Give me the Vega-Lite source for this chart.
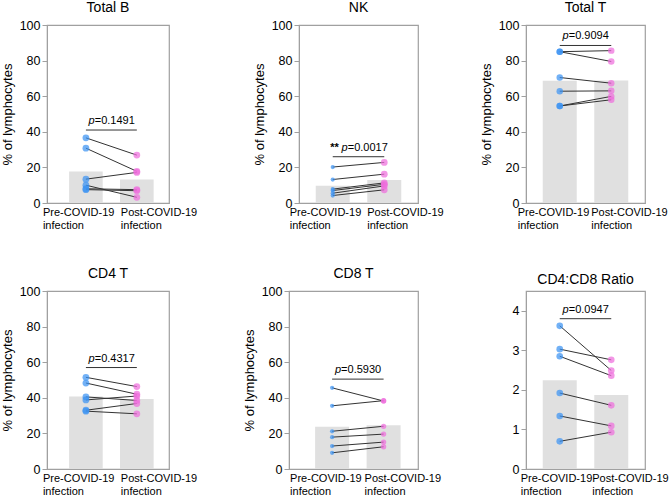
{
  "$schema": "https://vega.github.io/schema/vega-lite/v6.json",
  "background": "white",
  "padding": {"left": 0, "top": 0, "right": 0, "bottom": 0},
  "config": {
    "font": "Liberation Sans",
    "view": {"stroke": "#a0a0a0", "strokeWidth": 1.2},
    "axis": {"labelFont": "Liberation Sans", "titleFont": "Liberation Sans", "labelColor": "#000", "titleColor": "#000", "domainColor": "#a0a0a0", "tickColor": "#a0a0a0", "grid": false, "titleFontWeight": "normal"},
    "axisY": {"labelFontSize": 12.5, "tickSize": 5, "labelPadding": 2, "titleFontSize": 13, "titlePadding": 5, "labelOverlap": false},
    "axisX": {"labelFontSize": 11, "ticks": false, "labelAngle": 0, "labelPadding": 3, "labelLineHeight": 13.5, "labelAlign": "left", "labelOverlap": false},
    "title": {"fontSize": 14, "fontWeight": "normal", "font": "Liberation Sans", "color": "#000", "offset": 4}
  },
  "datasets": {
    "cells": [
      {"panel": "Total B", "subject": 1, "phase": "Pre-COVID-19 infection", "value": 36.6},
      {"panel": "Total B", "subject": 1, "phase": "Post-COVID-19 infection", "value": 26.9},
      {"panel": "Total B", "subject": 2, "phase": "Pre-COVID-19 infection", "value": 30.8},
      {"panel": "Total B", "subject": 2, "phase": "Post-COVID-19 infection", "value": 17.8},
      {"panel": "Total B", "subject": 3, "phase": "Pre-COVID-19 infection", "value": 13.4},
      {"panel": "Total B", "subject": 3, "phase": "Post-COVID-19 infection", "value": 17.2},
      {"panel": "Total B", "subject": 4, "phase": "Pre-COVID-19 infection", "value": 10.0},
      {"panel": "Total B", "subject": 4, "phase": "Post-COVID-19 infection", "value": 3.2},
      {"panel": "Total B", "subject": 5, "phase": "Pre-COVID-19 infection", "value": 8.0},
      {"panel": "Total B", "subject": 5, "phase": "Post-COVID-19 infection", "value": 7.5},
      {"panel": "Total B", "subject": 6, "phase": "Pre-COVID-19 infection", "value": 7.5},
      {"panel": "Total B", "subject": 6, "phase": "Post-COVID-19 infection", "value": 6.9},
      {"panel": "NK", "subject": 1, "phase": "Pre-COVID-19 infection", "value": 20.2},
      {"panel": "NK", "subject": 1, "phase": "Post-COVID-19 infection", "value": 22.8},
      {"panel": "NK", "subject": 2, "phase": "Pre-COVID-19 infection", "value": 13.2},
      {"panel": "NK", "subject": 2, "phase": "Post-COVID-19 infection", "value": 16.2},
      {"panel": "NK", "subject": 3, "phase": "Pre-COVID-19 infection", "value": 7.8},
      {"panel": "NK", "subject": 3, "phase": "Post-COVID-19 infection", "value": 11.3},
      {"panel": "NK", "subject": 4, "phase": "Pre-COVID-19 infection", "value": 7.0},
      {"panel": "NK", "subject": 4, "phase": "Post-COVID-19 infection", "value": 10.5},
      {"panel": "NK", "subject": 5, "phase": "Pre-COVID-19 infection", "value": 5.5},
      {"panel": "NK", "subject": 5, "phase": "Post-COVID-19 infection", "value": 9.6},
      {"panel": "NK", "subject": 6, "phase": "Pre-COVID-19 infection", "value": 4.2},
      {"panel": "NK", "subject": 6, "phase": "Post-COVID-19 infection", "value": 7.4},
      {"panel": "Total T", "subject": 1, "phase": "Pre-COVID-19 infection", "value": 85.0},
      {"panel": "Total T", "subject": 1, "phase": "Post-COVID-19 infection", "value": 85.6},
      {"panel": "Total T", "subject": 2, "phase": "Pre-COVID-19 infection", "value": 85.0},
      {"panel": "Total T", "subject": 2, "phase": "Post-COVID-19 infection", "value": 79.5},
      {"panel": "Total T", "subject": 3, "phase": "Pre-COVID-19 infection", "value": 70.5},
      {"panel": "Total T", "subject": 3, "phase": "Post-COVID-19 infection", "value": 67.3},
      {"panel": "Total T", "subject": 4, "phase": "Pre-COVID-19 infection", "value": 62.8},
      {"panel": "Total T", "subject": 4, "phase": "Post-COVID-19 infection", "value": 63.0},
      {"panel": "Total T", "subject": 5, "phase": "Pre-COVID-19 infection", "value": 54.5},
      {"panel": "Total T", "subject": 5, "phase": "Post-COVID-19 infection", "value": 59.9},
      {"panel": "Total T", "subject": 6, "phase": "Pre-COVID-19 infection", "value": 54.5},
      {"panel": "Total T", "subject": 6, "phase": "Post-COVID-19 infection", "value": 58.0},
      {"panel": "CD4 T", "subject": 1, "phase": "Pre-COVID-19 infection", "value": 51.5},
      {"panel": "CD4 T", "subject": 1, "phase": "Post-COVID-19 infection", "value": 46.3},
      {"panel": "CD4 T", "subject": 2, "phase": "Pre-COVID-19 infection", "value": 48.3},
      {"panel": "CD4 T", "subject": 2, "phase": "Post-COVID-19 infection", "value": 42.0},
      {"panel": "CD4 T", "subject": 3, "phase": "Pre-COVID-19 infection", "value": 40.5},
      {"panel": "CD4 T", "subject": 3, "phase": "Post-COVID-19 infection", "value": 38.5},
      {"panel": "CD4 T", "subject": 4, "phase": "Pre-COVID-19 infection", "value": 38.8},
      {"panel": "CD4 T", "subject": 4, "phase": "Post-COVID-19 infection", "value": 41.0},
      {"panel": "CD4 T", "subject": 5, "phase": "Pre-COVID-19 infection", "value": 33.0},
      {"panel": "CD4 T", "subject": 5, "phase": "Post-COVID-19 infection", "value": 36.8},
      {"panel": "CD4 T", "subject": 6, "phase": "Pre-COVID-19 infection", "value": 32.5},
      {"panel": "CD4 T", "subject": 6, "phase": "Post-COVID-19 infection", "value": 31.0},
      {"panel": "CD8 T", "subject": 1, "phase": "Pre-COVID-19 infection", "value": 45.6},
      {"panel": "CD8 T", "subject": 1, "phase": "Post-COVID-19 infection", "value": 38.2},
      {"panel": "CD8 T", "subject": 2, "phase": "Pre-COVID-19 infection", "value": 35.5},
      {"panel": "CD8 T", "subject": 2, "phase": "Post-COVID-19 infection", "value": 38.4},
      {"panel": "CD8 T", "subject": 3, "phase": "Pre-COVID-19 infection", "value": 21.2},
      {"panel": "CD8 T", "subject": 3, "phase": "Post-COVID-19 infection", "value": 24.0},
      {"panel": "CD8 T", "subject": 4, "phase": "Pre-COVID-19 infection", "value": 17.9},
      {"panel": "CD8 T", "subject": 4, "phase": "Post-COVID-19 infection", "value": 19.6},
      {"panel": "CD8 T", "subject": 5, "phase": "Pre-COVID-19 infection", "value": 12.9},
      {"panel": "CD8 T", "subject": 5, "phase": "Post-COVID-19 infection", "value": 15.1},
      {"panel": "CD8 T", "subject": 6, "phase": "Pre-COVID-19 infection", "value": 9.1},
      {"panel": "CD8 T", "subject": 6, "phase": "Post-COVID-19 infection", "value": 12.5},
      {"panel": "CD4:CD8 Ratio", "subject": 1, "phase": "Pre-COVID-19 infection", "value": 3.62},
      {"panel": "CD4:CD8 Ratio", "subject": 1, "phase": "Post-COVID-19 infection", "value": 2.49},
      {"panel": "CD4:CD8 Ratio", "subject": 2, "phase": "Pre-COVID-19 infection", "value": 3.03},
      {"panel": "CD4:CD8 Ratio", "subject": 2, "phase": "Post-COVID-19 infection", "value": 2.76},
      {"panel": "CD4:CD8 Ratio", "subject": 3, "phase": "Pre-COVID-19 infection", "value": 2.85},
      {"panel": "CD4:CD8 Ratio", "subject": 3, "phase": "Post-COVID-19 infection", "value": 2.36},
      {"panel": "CD4:CD8 Ratio", "subject": 4, "phase": "Pre-COVID-19 infection", "value": 1.92},
      {"panel": "CD4:CD8 Ratio", "subject": 4, "phase": "Post-COVID-19 infection", "value": 1.61},
      {"panel": "CD4:CD8 Ratio", "subject": 5, "phase": "Pre-COVID-19 infection", "value": 1.34},
      {"panel": "CD4:CD8 Ratio", "subject": 5, "phase": "Post-COVID-19 infection", "value": 1.09},
      {"panel": "CD4:CD8 Ratio", "subject": 6, "phase": "Pre-COVID-19 infection", "value": 0.70},
      {"panel": "CD4:CD8 Ratio", "subject": 6, "phase": "Post-COVID-19 infection", "value": 0.93}
    ],
    "pvals": [
      {"panel": "Total B", "y": 41, "label": "=0.1491", "stars": ""},
      {"panel": "NK", "y": 26, "label": "=0.0017", "stars": "**"},
      {"panel": "Total T", "y": 88.5, "label": "=0.9094", "stars": ""},
      {"panel": "CD4 T", "y": 57, "label": "=0.4317", "stars": ""},
      {"panel": "CD8 T", "y": 50.5, "label": "=0.5930", "stars": ""},
      {"panel": "CD4:CD8 Ratio", "y": 3.8, "label": "=0.0947", "stars": ""}
    ]
  },
  "spacing": 34,
  "vconcat": [
    {
      "bounds": "flush",
      "spacing": 130,
      "hconcat": [
        {
          "width": 122, "height": 178, "title": "Total B",
          "layer": [
            {"data": {"name": "cells"}, "transform": [{"filter": "datum.panel === 'Total B'"}], "mark": {"type": "bar", "color": "#e0e0e0"},
             "encoding": {"x": {"field": "phase", "type": "nominal", "title": null, "scale": {"domain": ["Pre-COVID-19 infection", "Post-COVID-19 infection"], "paddingInner": 0.34, "paddingOuter": 0.368, "align": 0.59}, "axis": {"labelExpr": "split(datum.label, ' ')", "labelOffset": {"condition": {"test": "datum.value === 'Pre-COVID-19 infection'", "value": -43}, "value": -16}}},
                          "y": {"aggregate": "mean", "field": "value", "type": "quantitative", "title": "% of lymphocytes", "scale": {"domain": [0, 100]}, "axis": {"values": [0, 20, 40, 60, 80, 100]}}}},
            {"data": {"name": "cells"}, "transform": [{"filter": "datum.panel === 'Total B'"}], "mark": {"type": "line", "color": "#333333", "strokeWidth": 1},
             "encoding": {"x": {"field": "phase", "type": "nominal", "title": null}, "y": {"field": "value", "type": "quantitative", "title": "% of lymphocytes", "axis": {"values": [0, 20, 40, 60, 80, 100]}}, "detail": {"field": "subject"}}},
            {"data": {"name": "cells"}, "transform": [{"filter": "datum.panel === 'Total B'"}], "mark": {"type": "circle", "opacity": 0.72},
             "encoding": {"x": {"field": "phase", "type": "nominal", "title": null}, "y": {"field": "value", "type": "quantitative", "title": "% of lymphocytes", "axis": {"values": [0, 20, 40, 60, 80, 100]}},
                          "color": {"condition": {"test": "datum.phase === 'Pre-COVID-19 infection'", "value": "#3b93f2"}, "value": "#ef6edd"},
                          "size": {"value": 46}}},
            {"data": {"name": "pvals"}, "transform": [{"filter": "datum.panel === 'Total B'"}], "mark": {"type": "rule", "color": "#333333", "strokeWidth": 1},
             "encoding": {"x": {"datum": "Pre-COVID-19 infection"}, "x2": {"datum": "Post-COVID-19 infection"}, "y": {"field": "y", "type": "quantitative", "title": "% of lymphocytes", "axis": {"values": [0, 20, 40, 60, 80, 100]}}}},
            {"data": {"name": "pvals"}, "transform": [{"filter": "datum.panel === 'Total B'"}], "mark": {"type": "text", "fontStyle": "italic", "fontSize": 11, "align": "right", "baseline": "alphabetic", "dx": -8, "dy": -6},
             "encoding": {"x": {"datum": "Pre-COVID-19 infection", "bandPosition": 1}, "y": {"field": "y", "type": "quantitative", "title": "% of lymphocytes", "axis": {"values": [0, 20, 40, 60, 80, 100]}}, "text": {"value": "p"}}},
            {"data": {"name": "pvals"}, "transform": [{"filter": "datum.panel === 'Total B'"}], "mark": {"type": "text", "fontSize": 11, "align": "left", "baseline": "alphabetic", "dx": -8, "dy": -6},
             "encoding": {"x": {"datum": "Pre-COVID-19 infection", "bandPosition": 1}, "y": {"field": "y", "type": "quantitative", "title": "% of lymphocytes", "axis": {"values": [0, 20, 40, 60, 80, 100]}}, "text": {"field": "label"}}}
          ]
        },
        {
          "bounds": "flush",
          "spacing": 108,
          "hconcat": [
            {
              "width": 119, "height": 178, "title": "NK",
              "layer": [
                {"data": {"name": "cells"}, "transform": [{"filter": "datum.panel === 'NK'"}], "mark": {"type": "bar", "color": "#e0e0e0"},
                 "encoding": {"x": {"field": "phase", "type": "nominal", "title": null, "scale": {"domain": ["Pre-COVID-19 infection", "Post-COVID-19 infection"], "paddingInner": 0.34, "paddingOuter": 0.325}, "axis": {"labelExpr": "split(datum.label, ' ')", "labelOffset": {"condition": {"test": "datum.value === 'Pre-COVID-19 infection'", "value": -43}, "value": -17}}},
                              "y": {"aggregate": "mean", "field": "value", "type": "quantitative", "title": "% of lymphocytes", "scale": {"domain": [0, 100]}, "axis": {"values": [0, 20, 40, 60, 80, 100]}}}},
                {"data": {"name": "cells"}, "transform": [{"filter": "datum.panel === 'NK'"}], "mark": {"type": "line", "color": "#333333", "strokeWidth": 1},
                 "encoding": {"x": {"field": "phase", "type": "nominal", "title": null}, "y": {"field": "value", "type": "quantitative", "title": "% of lymphocytes", "axis": {"values": [0, 20, 40, 60, 80, 100]}}, "detail": {"field": "subject"}}},
                {"data": {"name": "cells"}, "transform": [{"filter": "datum.panel === 'NK'"}], "mark": {"type": "circle", "opacity": 0.72},
                 "encoding": {"x": {"field": "phase", "type": "nominal", "title": null}, "y": {"field": "value", "type": "quantitative", "title": "% of lymphocytes", "axis": {"values": [0, 20, 40, 60, 80, 100]}},
                              "color": {"condition": {"test": "datum.phase === 'Pre-COVID-19 infection'", "value": "#3b93f2"}, "value": "#ef6edd"},
                              "size": {"condition": {"test": "datum.phase === 'Pre-COVID-19 infection'", "value": 18}, "value": 46}}},
                {"data": {"name": "pvals"}, "transform": [{"filter": "datum.panel === 'NK'"}], "mark": {"type": "rule", "color": "#333333", "strokeWidth": 1},
                 "encoding": {"x": {"datum": "Pre-COVID-19 infection"}, "x2": {"datum": "Post-COVID-19 infection"}, "y": {"field": "y", "type": "quantitative", "title": "% of lymphocytes", "axis": {"values": [0, 20, 40, 60, 80, 100]}}}},
                {"data": {"name": "pvals"}, "transform": [{"filter": "datum.panel === 'NK'"}], "mark": {"type": "text", "fontWeight": "bold", "fontSize": 11, "align": "right", "baseline": "alphabetic", "dx": -11, "dy": -6},
                 "encoding": {"x": {"datum": "Pre-COVID-19 infection", "bandPosition": 1}, "y": {"field": "y", "type": "quantitative", "title": "% of lymphocytes", "axis": {"values": [0, 20, 40, 60, 80, 100]}}, "text": {"field": "stars"}}},
                {"data": {"name": "pvals"}, "transform": [{"filter": "datum.panel === 'NK'"}], "mark": {"type": "text", "fontStyle": "italic", "fontSize": 11, "align": "right", "baseline": "alphabetic", "dx": -2, "dy": -6},
                 "encoding": {"x": {"datum": "Pre-COVID-19 infection", "bandPosition": 1}, "y": {"field": "y", "type": "quantitative", "title": "% of lymphocytes", "axis": {"values": [0, 20, 40, 60, 80, 100]}}, "text": {"value": "p"}}},
                {"data": {"name": "pvals"}, "transform": [{"filter": "datum.panel === 'NK'"}], "mark": {"type": "text", "fontSize": 11, "align": "left", "baseline": "alphabetic", "dx": -2, "dy": -6},
                 "encoding": {"x": {"datum": "Pre-COVID-19 infection", "bandPosition": 1}, "y": {"field": "y", "type": "quantitative", "title": "% of lymphocytes", "axis": {"values": [0, 20, 40, 60, 80, 100]}}, "text": {"field": "label"}}}
              ]
            },
            {
              "width": 119, "height": 178, "title": "Total T",
              "layer": [
                {"data": {"name": "cells"}, "transform": [{"filter": "datum.panel === 'Total T'"}], "mark": {"type": "bar", "color": "#e0e0e0"},
                 "encoding": {"x": {"field": "phase", "type": "nominal", "title": null, "scale": {"domain": ["Pre-COVID-19 infection", "Post-COVID-19 infection"], "paddingInner": 0.34, "paddingOuter": 0.325}, "axis": {"labelExpr": "split(datum.label, ' ')", "labelOffset": {"condition": {"test": "datum.value === 'Pre-COVID-19 infection'", "value": -42}, "value": -20}}},
                              "y": {"aggregate": "mean", "field": "value", "type": "quantitative", "title": "% of lymphocytes", "scale": {"domain": [0, 100]}, "axis": {"values": [0, 20, 40, 60, 80, 100]}}}},
                {"data": {"name": "cells"}, "transform": [{"filter": "datum.panel === 'Total T'"}], "mark": {"type": "line", "color": "#333333", "strokeWidth": 1},
                 "encoding": {"x": {"field": "phase", "type": "nominal", "title": null}, "y": {"field": "value", "type": "quantitative", "title": "% of lymphocytes", "axis": {"values": [0, 20, 40, 60, 80, 100]}}, "detail": {"field": "subject"}}},
                {"data": {"name": "cells"}, "transform": [{"filter": "datum.panel === 'Total T'"}], "mark": {"type": "circle", "opacity": 0.72},
                 "encoding": {"x": {"field": "phase", "type": "nominal", "title": null}, "y": {"field": "value", "type": "quantitative", "title": "% of lymphocytes", "axis": {"values": [0, 20, 40, 60, 80, 100]}},
                              "color": {"condition": {"test": "datum.phase === 'Pre-COVID-19 infection'", "value": "#3b93f2"}, "value": "#ef6edd"},
                              "size": {"value": 42}}},
                {"data": {"name": "pvals"}, "transform": [{"filter": "datum.panel === 'Total T'"}], "mark": {"type": "rule", "color": "#333333", "strokeWidth": 1},
                 "encoding": {"x": {"datum": "Pre-COVID-19 infection"}, "x2": {"datum": "Post-COVID-19 infection"}, "y": {"field": "y", "type": "quantitative", "title": "% of lymphocytes", "axis": {"values": [0, 20, 40, 60, 80, 100]}}}},
                {"data": {"name": "pvals"}, "transform": [{"filter": "datum.panel === 'Total T'"}], "mark": {"type": "text", "fontStyle": "italic", "fontSize": 11, "align": "right", "baseline": "alphabetic", "dx": -8, "dy": -6},
                 "encoding": {"x": {"datum": "Pre-COVID-19 infection", "bandPosition": 1}, "y": {"field": "y", "type": "quantitative", "title": "% of lymphocytes", "axis": {"values": [0, 20, 40, 60, 80, 100]}}, "text": {"value": "p"}}},
                {"data": {"name": "pvals"}, "transform": [{"filter": "datum.panel === 'Total T'"}], "mark": {"type": "text", "fontSize": 11, "align": "left", "baseline": "alphabetic", "dx": -8, "dy": -6},
                 "encoding": {"x": {"datum": "Pre-COVID-19 infection", "bandPosition": 1}, "y": {"field": "y", "type": "quantitative", "title": "% of lymphocytes", "axis": {"values": [0, 20, 40, 60, 80, 100]}}, "text": {"field": "label"}}}
              ]
            }
          ]
        }
      ]
    },
    {
      "bounds": "flush",
      "spacing": 120,
      "hconcat": [
        {
          "width": 122, "height": 178, "title": "CD4 T",
          "layer": [
            {"data": {"name": "cells"}, "transform": [{"filter": "datum.panel === 'CD4 T'"}], "mark": {"type": "bar", "color": "#e0e0e0"},
             "encoding": {"x": {"field": "phase", "type": "nominal", "title": null, "scale": {"domain": ["Pre-COVID-19 infection", "Post-COVID-19 infection"], "paddingInner": 0.34, "paddingOuter": 0.368, "align": 0.59}, "axis": {"labelExpr": "split(datum.label, ' ')", "labelOffset": {"condition": {"test": "datum.value === 'Pre-COVID-19 infection'", "value": -43}, "value": -16}}},
                          "y": {"aggregate": "mean", "field": "value", "type": "quantitative", "title": "% of lymphocytes", "scale": {"domain": [0, 100]}, "axis": {"values": [0, 20, 40, 60, 80, 100]}}}},
            {"data": {"name": "cells"}, "transform": [{"filter": "datum.panel === 'CD4 T'"}], "mark": {"type": "line", "color": "#333333", "strokeWidth": 1},
             "encoding": {"x": {"field": "phase", "type": "nominal", "title": null}, "y": {"field": "value", "type": "quantitative", "title": "% of lymphocytes", "axis": {"values": [0, 20, 40, 60, 80, 100]}}, "detail": {"field": "subject"}}},
            {"data": {"name": "cells"}, "transform": [{"filter": "datum.panel === 'CD4 T'"}], "mark": {"type": "circle", "opacity": 0.72},
             "encoding": {"x": {"field": "phase", "type": "nominal", "title": null}, "y": {"field": "value", "type": "quantitative", "title": "% of lymphocytes", "axis": {"values": [0, 20, 40, 60, 80, 100]}},
                          "color": {"condition": {"test": "datum.phase === 'Pre-COVID-19 infection'", "value": "#3b93f2"}, "value": "#ef6edd"},
                          "size": {"value": 46}}},
            {"data": {"name": "pvals"}, "transform": [{"filter": "datum.panel === 'CD4 T'"}], "mark": {"type": "rule", "color": "#333333", "strokeWidth": 1},
             "encoding": {"x": {"datum": "Pre-COVID-19 infection"}, "x2": {"datum": "Post-COVID-19 infection"}, "y": {"field": "y", "type": "quantitative", "title": "% of lymphocytes", "axis": {"values": [0, 20, 40, 60, 80, 100]}}}},
            {"data": {"name": "pvals"}, "transform": [{"filter": "datum.panel === 'CD4 T'"}], "mark": {"type": "text", "fontStyle": "italic", "fontSize": 11, "align": "right", "baseline": "alphabetic", "dx": -8, "dy": -6},
             "encoding": {"x": {"datum": "Pre-COVID-19 infection", "bandPosition": 1}, "y": {"field": "y", "type": "quantitative", "title": "% of lymphocytes", "axis": {"values": [0, 20, 40, 60, 80, 100]}}, "text": {"value": "p"}}},
            {"data": {"name": "pvals"}, "transform": [{"filter": "datum.panel === 'CD4 T'"}], "mark": {"type": "text", "fontSize": 11, "align": "left", "baseline": "alphabetic", "dx": -8, "dy": -6},
             "encoding": {"x": {"datum": "Pre-COVID-19 infection", "bandPosition": 1}, "y": {"field": "y", "type": "quantitative", "title": "% of lymphocytes", "axis": {"values": [0, 20, 40, 60, 80, 100]}}, "text": {"field": "label"}}}
          ]
        },
        {
          "bounds": "flush",
          "spacing": 108,
          "hconcat": [
            {
              "width": 129, "height": 178, "title": "CD8 T",
              "layer": [
                {"data": {"name": "cells"}, "transform": [{"filter": "datum.panel === 'CD8 T'"}], "mark": {"type": "bar", "color": "#e0e0e0"},
                 "encoding": {"x": {"field": "phase", "type": "nominal", "title": null, "scale": {"domain": ["Pre-COVID-19 infection", "Post-COVID-19 infection"], "paddingInner": 0.34, "paddingOuter": 0.4225, "align": 0.6}, "axis": {"labelExpr": "split(datum.label, ' ')", "labelOffset": {"condition": {"test": "datum.value === 'Pre-COVID-19 infection'", "value": -42}, "value": -19}}},
                              "y": {"aggregate": "mean", "field": "value", "type": "quantitative", "title": "% of lymphocytes", "scale": {"domain": [0, 100]}, "axis": {"values": [0, 20, 40, 60, 80, 100]}}}},
                {"data": {"name": "cells"}, "transform": [{"filter": "datum.panel === 'CD8 T'"}], "mark": {"type": "line", "color": "#333333", "strokeWidth": 1},
                 "encoding": {"x": {"field": "phase", "type": "nominal", "title": null}, "y": {"field": "value", "type": "quantitative", "title": "% of lymphocytes", "axis": {"values": [0, 20, 40, 60, 80, 100]}}, "detail": {"field": "subject"}}},
                {"data": {"name": "cells"}, "transform": [{"filter": "datum.panel === 'CD8 T'"}], "mark": {"type": "circle", "opacity": 0.72},
                 "encoding": {"x": {"field": "phase", "type": "nominal", "title": null}, "y": {"field": "value", "type": "quantitative", "title": "% of lymphocytes", "axis": {"values": [0, 20, 40, 60, 80, 100]}},
                              "color": {"condition": {"test": "datum.phase === 'Pre-COVID-19 infection'", "value": "#3b93f2"}, "value": "#ef6edd"},
                              "size": {"condition": {"test": "datum.phase === 'Pre-COVID-19 infection'", "value": 18}, "value": 28}}},
                {"data": {"name": "pvals"}, "transform": [{"filter": "datum.panel === 'CD8 T'"}], "mark": {"type": "rule", "color": "#333333", "strokeWidth": 1},
                 "encoding": {"x": {"datum": "Pre-COVID-19 infection"}, "x2": {"datum": "Post-COVID-19 infection"}, "y": {"field": "y", "type": "quantitative", "title": "% of lymphocytes", "axis": {"values": [0, 20, 40, 60, 80, 100]}}}},
                {"data": {"name": "pvals"}, "transform": [{"filter": "datum.panel === 'CD8 T'"}], "mark": {"type": "text", "fontStyle": "italic", "fontSize": 11, "align": "right", "baseline": "alphabetic", "dx": -8, "dy": -6},
                 "encoding": {"x": {"datum": "Pre-COVID-19 infection", "bandPosition": 1}, "y": {"field": "y", "type": "quantitative", "title": "% of lymphocytes", "axis": {"values": [0, 20, 40, 60, 80, 100]}}, "text": {"value": "p"}}},
                {"data": {"name": "pvals"}, "transform": [{"filter": "datum.panel === 'CD8 T'"}], "mark": {"type": "text", "fontSize": 11, "align": "left", "baseline": "alphabetic", "dx": -8, "dy": -6},
                 "encoding": {"x": {"datum": "Pre-COVID-19 infection", "bandPosition": 1}, "y": {"field": "y", "type": "quantitative", "title": "% of lymphocytes", "axis": {"values": [0, 20, 40, 60, 80, 100]}}, "text": {"field": "label"}}}
              ]
            },
            {
              "width": 119, "height": 178, "title": "CD4:CD8 Ratio",
              "layer": [
                {"data": {"name": "cells"}, "transform": [{"filter": "datum.panel === 'CD4:CD8 Ratio'"}], "mark": {"type": "bar", "color": "#e0e0e0"},
                 "encoding": {"x": {"field": "phase", "type": "nominal", "title": null, "scale": {"domain": ["Pre-COVID-19 infection", "Post-COVID-19 infection"], "paddingInner": 0.34, "paddingOuter": 0.325}, "axis": {"labelExpr": "split(datum.label, ' ')", "labelOffset": {"condition": {"test": "datum.value === 'Pre-COVID-19 infection'", "value": -39}, "value": -19}}},
                              "y": {"aggregate": "mean", "field": "value", "type": "quantitative", "title": null, "scale": {"domain": [0, 4.5]}, "axis": {"values": [0, 1, 2, 3, 4]}}}},
                {"data": {"name": "cells"}, "transform": [{"filter": "datum.panel === 'CD4:CD8 Ratio'"}], "mark": {"type": "line", "color": "#333333", "strokeWidth": 1},
                 "encoding": {"x": {"field": "phase", "type": "nominal", "title": null}, "y": {"field": "value", "type": "quantitative", "title": null, "axis": {"values": [0, 1, 2, 3, 4]}}, "detail": {"field": "subject"}}},
                {"data": {"name": "cells"}, "transform": [{"filter": "datum.panel === 'CD4:CD8 Ratio'"}], "mark": {"type": "circle", "opacity": 0.72},
                 "encoding": {"x": {"field": "phase", "type": "nominal", "title": null}, "y": {"field": "value", "type": "quantitative", "title": null, "axis": {"values": [0, 1, 2, 3, 4]}},
                              "color": {"condition": {"test": "datum.phase === 'Pre-COVID-19 infection'", "value": "#3b93f2"}, "value": "#ef6edd"},
                              "size": {"value": 44}}},
                {"data": {"name": "pvals"}, "transform": [{"filter": "datum.panel === 'CD4:CD8 Ratio'"}], "mark": {"type": "rule", "color": "#333333", "strokeWidth": 1},
                 "encoding": {"x": {"datum": "Pre-COVID-19 infection"}, "x2": {"datum": "Post-COVID-19 infection"}, "y": {"field": "y", "type": "quantitative", "title": null, "axis": {"values": [0, 1, 2, 3, 4]}}}},
                {"data": {"name": "pvals"}, "transform": [{"filter": "datum.panel === 'CD4:CD8 Ratio'"}], "mark": {"type": "text", "fontStyle": "italic", "fontSize": 11, "align": "right", "baseline": "alphabetic", "dx": -8, "dy": -6},
                 "encoding": {"x": {"datum": "Pre-COVID-19 infection", "bandPosition": 1}, "y": {"field": "y", "type": "quantitative", "title": null, "axis": {"values": [0, 1, 2, 3, 4]}}, "text": {"value": "p"}}},
                {"data": {"name": "pvals"}, "transform": [{"filter": "datum.panel === 'CD4:CD8 Ratio'"}], "mark": {"type": "text", "fontSize": 11, "align": "left", "baseline": "alphabetic", "dx": -8, "dy": -6},
                 "encoding": {"x": {"datum": "Pre-COVID-19 infection", "bandPosition": 1}, "y": {"field": "y", "type": "quantitative", "title": null, "axis": {"values": [0, 1, 2, 3, 4]}}, "text": {"field": "label"}}}
              ]
            }
          ]
        }
      ]
    }
  ]
}
